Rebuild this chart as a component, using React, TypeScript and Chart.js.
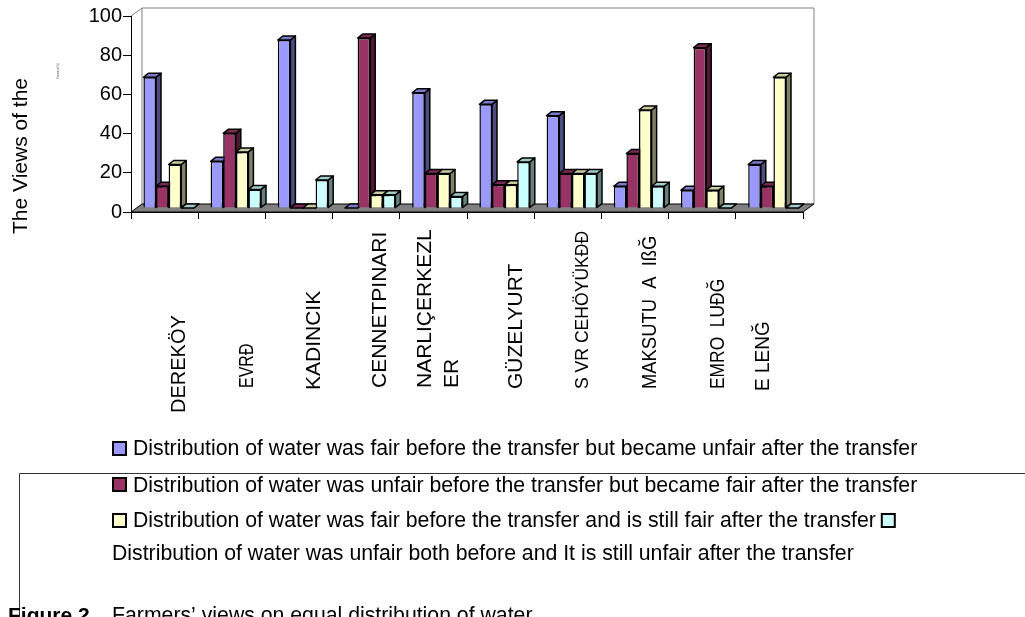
import { useEffect, useRef } from "react";
import { Chart, registerables } from "chart.js";

Chart.register(...registerables);

// ---------- data ----------
const categories = [
  "DEREKÖY",
  "EVRĐ",
  "KADINCIK",
  "CENNETPINARI",
  "NARLIÇERKEZLER",
  "GÜZELYURT",
  "S VR CEHÖYÜKĐĐ",
  "MAKSUTU  A  IßĞ",
  "EMRO  LUĐĞ",
  "E LENĞ",
];
const categoryLines = [
  ["DEREKÖY"],
  ["EVRĐ"],
  ["KADINCIK"],
  ["CENNETPINARI"],
  ["NARLIÇERKEZL", "ER"],
  ["GÜZELYURT"],
  ["S VR CEHÖYÜKĐĐ"],
  ["MAKSUTU  A  IßĞ"],
  ["EMRO  LUĐĞ"],
  ["E LENĞ"],
];
const fairThenUnfair = [66.7, 23.8, 85.7, 0, 58.8, 52.9, 47.1, 11.1, 9.1, 22.2];
const unfairThenFair = [11.1, 38.1, 0, 86.7, 17.6, 11.8, 17.6, 27.8, 81.8, 11.1];
const fairStillFair = [22.2, 28.6, 0, 6.7, 17.6, 11.8, 17.6, 50.0, 9.1, 66.7];
const unfairStillUnfair = [0, 9.5, 14.3, 6.7, 5.9, 23.5, 17.6, 11.1, 0, 0];
const seriesNames = [
  "Distribution of water was fair before the transfer but became unfair after the transfer",
  "Distribution of water was unfair before the transfer but became fair after the transfer",
  "Distribution of water was fair before the transfer and is still fair after the transfer",
  "Distribution of water was unfair both before and It is still unfair after the transfer",
];
const yTickValues = [0, 20, 40, 60, 80, 100];
const yTitle = "The Views of the";
const yTitleSmall = "Farmers(%)";
const captionBold = "Figure 2.";
const captionText = "Farmers’ views on equal distribution of water.";

// ---------- styles / layout ----------
const FONT = "'Liberation Sans', Arial, Helvetica, sans-serif";
const COLORS = ["#9999FF", "#993366", "#FFFFCC", "#CCFFFF"];
const W = 1025;
const H = 617;
const BAR_SHIFT = { x: 4, y: 4 };
const BAR_DEPTH = { x: 5, y: 4 };
const WALL_DEPTH = { x: 11, y: 8 };
// per-label font size, stretch along text, horizontal shift from category centre, start (bottom) y
const LABEL_SIZE = [20, 20, 21, 21, 21, 21, 18.5, 20, 20, 20];
const LABEL_STRETCH = [1, 0.8, 1, 1, 1, 1, 0.95, 0.92, 0.87, 0.95];
const LABEL_DX = [15, 16, 15, 14, -8, 16, 15, 15, 16, -6];
const LABEL_BOTTOM = [413, 388, 390, 388, 388, 389, 389, 389, 389, 391];
const LABEL_LINE_GAP = 27;
const LEGEND_FONT = 21.25;

function shade(hex: string, f: number) {
  const n = parseInt(hex.slice(1), 16);
  const r = Math.round(((n >> 16) & 255) * f);
  const g = Math.round(((n >> 8) & 255) * f);
  const b = Math.round((n & 255) * f);
  return `rgb(${r},${g},${b})`;
}

function vText(
  ctx: CanvasRenderingContext2D,
  text: string,
  x: number,
  y: number,
  font: string,
  stretch = 1
) {
  ctx.save();
  ctx.translate(x, y);
  ctx.rotate(-Math.PI / 2);
  ctx.scale(stretch, 1);
  ctx.font = font;
  ctx.textAlign = "left";
  ctx.textBaseline = "middle";
  ctx.fillText(text, 0, 0);
  ctx.restore();
}

const threeDPlugin = {
  id: "threeD",
  beforeDatasetsDraw(chart: any) {
    const { ctx, chartArea: a } = chart;
    ctx.save();
    // back wall outline
    ctx.strokeStyle = "#808080";
    ctx.lineWidth = 1;
    ctx.beginPath();
    ctx.moveTo(a.left, a.top);
    ctx.lineTo(a.left + WALL_DEPTH.x, a.top - WALL_DEPTH.y);
    ctx.lineTo(a.right + WALL_DEPTH.x, a.top - WALL_DEPTH.y);
    ctx.lineTo(a.right + WALL_DEPTH.x, a.bottom - WALL_DEPTH.y);
    ctx.moveTo(a.left + WALL_DEPTH.x, a.top - WALL_DEPTH.y);
    ctx.lineTo(a.left + WALL_DEPTH.x, a.bottom - WALL_DEPTH.y);
    ctx.stroke();
    // floor
    ctx.beginPath();
    ctx.moveTo(a.left, a.bottom);
    ctx.lineTo(a.right, a.bottom);
    ctx.lineTo(a.right + WALL_DEPTH.x, a.bottom - WALL_DEPTH.y);
    ctx.lineTo(a.left + WALL_DEPTH.x, a.bottom - WALL_DEPTH.y);
    ctx.closePath();
    ctx.fillStyle = "#808080";
    ctx.fill();
    ctx.strokeStyle = "#000";
    ctx.stroke();
    ctx.restore();

    // side and top faces of bars
    ctx.save();
    ctx.translate(BAR_SHIFT.x, -BAR_SHIFT.y);
    const items: any[] = [];
    chart.data.datasets.forEach((_ds: any, di: number) => {
      const meta = chart.getDatasetMeta(di);
      meta.data.forEach((el: any) => {
        const p = el.getProps(["x", "y", "base", "width"], true);
        items.push({ ...p, di });
      });
    });
    items.sort((p, q) => p.x - q.x);
    ctx.lineWidth = 1.5;
    ctx.strokeStyle = "#000";
    ctx.lineJoin = "round";
    for (const it of items) {
      const l = it.x - it.width / 2;
      const r = it.x + it.width / 2;
      const top = Math.min(it.y, it.base);
      const base = Math.max(it.y, it.base);
      // side
      ctx.beginPath();
      ctx.moveTo(r, top);
      ctx.lineTo(r + BAR_DEPTH.x, top - BAR_DEPTH.y);
      ctx.lineTo(r + BAR_DEPTH.x, base - BAR_DEPTH.y);
      ctx.lineTo(r, base);
      ctx.closePath();
      ctx.fillStyle = shade(COLORS[it.di], 0.5);
      ctx.fill();
      ctx.stroke();
      // top
      ctx.beginPath();
      ctx.moveTo(l, top);
      ctx.lineTo(l + BAR_DEPTH.x, top - BAR_DEPTH.y);
      ctx.lineTo(r + BAR_DEPTH.x, top - BAR_DEPTH.y);
      ctx.lineTo(r, top);
      ctx.closePath();
      ctx.fillStyle = shade(COLORS[it.di], 0.8);
      ctx.fill();
      ctx.stroke();
    }
    ctx.restore();
    // shift front faces drawn by the library into the same depth
    ctx.save();
    ctx.translate(BAR_SHIFT.x, -BAR_SHIFT.y);
  },
  afterDatasetsDraw(chart: any) {
    chart.ctx.restore();
  },
  afterDraw(chart: any) {
    const { ctx } = chart;
    const xs = chart.scales.x;
    ctx.save();
    ctx.fillStyle = "#000";
    // category labels
    categoryLines.forEach((lines, i) => {
      const cx = xs.getPixelForValue(i) + LABEL_DX[i];
      lines.forEach((t, k) => {
        vText(
          ctx,
          t,
          cx + k * LABEL_LINE_GAP,
          LABEL_BOTTOM[i],
          `${LABEL_SIZE[i]}px ${FONT}`,
          LABEL_STRETCH[i]
        );
      });
    });
    // y titles
    vText(ctx, yTitle, 21, 234, `21px ${FONT}`);
    ctx.fillStyle = "#666";
    vText(ctx, yTitleSmall, 58, 79, `3px ${FONT}`);
    ctx.fillStyle = "#000";

    // frame lines
    ctx.strokeStyle = "#333";
    ctx.lineWidth = 1;
    ctx.beginPath();
    ctx.moveTo(19.5, H);
    ctx.lineTo(19.5, 473.5);
    ctx.lineTo(W, 473.5);
    ctx.stroke();

    // legend
    ctx.font = `${LEGEND_FONT}px ${FONT}`;
    ctx.textAlign = "left";
    ctx.textBaseline = "alphabetic";
    const box = (x: number, y: number, c: string) => {
      ctx.fillStyle = c;
      ctx.fillRect(x, y, 13, 13);
      ctx.strokeStyle = "#000";
      ctx.lineWidth = 2;
      ctx.strokeRect(x, y, 13, 13);
      ctx.fillStyle = "#000";
    };
    box(113, 442, COLORS[0]);
    ctx.fillText(seriesNames[0], 133, 455);
    box(113, 478, COLORS[1]);
    ctx.fillText(seriesNames[1], 133, 492);
    box(113, 514, COLORS[2]);
    ctx.fillText(seriesNames[2], 133, 527);
    const w3 = ctx.measureText(seriesNames[2] + " ").width;
    box(133 + w3, 514, COLORS[3]);
    ctx.fillText(seriesNames[3], 112, 560);

    // caption
    ctx.font = `bold 21px ${FONT}`;
    ctx.fillText(captionBold, 8, 622);
    ctx.font = `${LEGEND_FONT}px ${FONT}`;
    ctx.fillText(captionText, 112, 622);
    ctx.restore();
  },
};

export default function App() {
  const ref = useRef<HTMLCanvasElement | null>(null);
  useEffect(() => {
    const canvas = ref.current;
    if (!canvas) return;
    const data = [fairThenUnfair, unfairThenFair, fairStillFair, unfairStillUnfair];
    const chart = new Chart(canvas, {
      type: "bar",
      data: {
        labels: categories,
        datasets: data.map((d, i) => ({
          label: seriesNames[i],
          data: d,
          backgroundColor: COLORS[i],
          borderColor: "#000",
          borderWidth: 1.5,
          categoryPercentage: 0.75,
          barPercentage: 1,
        })),
      },
      options: {
        responsive: false,
        animation: false,
        devicePixelRatio: 1,
        layout: { padding: { left: 0, top: 16, right: 222, bottom: 0 } },
        plugins: {
          legend: { display: false },
          tooltip: { enabled: false },
          title: { display: false },
        },
        scales: {
          x: {
            grid: { drawOnChartArea: false, color: "#000", tickLength: 7, offset: true },
            border: { color: "#000", width: 1 },
            ticks: { display: false },
            afterFit: (s: any) => {
              s.height = H - 212;
            },
          },
          y: {
            min: 0,
            max: 100,
            afterBuildTicks: (s: any) => {
              s.ticks = yTickValues.map((v) => ({ value: v }));
            },
            grid: { drawOnChartArea: false, color: "#000", tickLength: 8 },
            border: { color: "#000", width: 1 },
            ticks: {
              color: "#000",
              font: { family: FONT, size: 20 },
              padding: 1,
            },
            afterFit: (s: any) => {
              s.width = 131;
            },
          },
        },
      },
      plugins: [threeDPlugin],
    });
    return () => chart.destroy();
  }, []);
  return (
    <div
      style={{
        position: "absolute",
        left: 0,
        top: 0,
        width: W,
        height: H,
        overflow: "hidden",
        background: "#fff",
      }}
    >
      <canvas ref={ref} width={W} height={H} style={{ width: W, height: H, display: "block" }} />
    </div>
  );
}
